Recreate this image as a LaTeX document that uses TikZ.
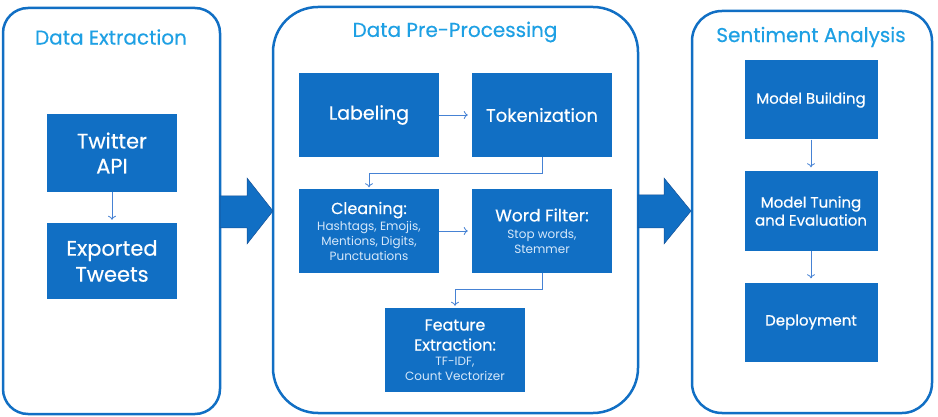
\documentclass[tikz,border=0pt]{standalone}
\usepackage{fontspec}
\setmainfont{Poppins}[FakeBold=0.4]
\newfontfamily\subfont{Poppins}
\usepackage{tikz}
\usepackage{xcolor}
\usetikzlibrary{arrows.meta}

\definecolor{boxblue}{RGB}{17,111,196}
\definecolor{titleblue}{RGB}{30,160,228}
\definecolor{linkblue}{RGB}{70,130,212}
\definecolor{edgeblue}{RGB}{20,80,150}
\definecolor{subwhite}{RGB}{214,232,250}

\newcommand{\fsz}[2]{\fontsize{#1}{#2}\selectfont}
\newcommand{\subline}{\subfont\fsz{12}{15}\color{subwhite}}

\begin{document}
\begin{tikzpicture}[x=1pt, y=-1pt,
  panel/.style={draw=boxblue, line width=2.5pt, fill=white},
  box/.style={fill=boxblue, text=white, align=center, inner sep=0pt},
  flow/.style={draw=linkblue, line width=0.8pt, ->, >={To[length=4pt,width=8pt,line width=0.8pt]}},
  title/.style={text=titleblue, font=\fsz{20}{24}}]
\useasboundingbox (0,0) rectangle (938,417);

% the three stages
\draw [panel, rounded corners=25] (3,8) rectangle (220,414);
\draw [panel, rounded corners=45] (273,7) rectangle (638,413);
\draw [panel, rounded corners=30] (692,11) rectangle (932,413);
\node [title] (t1) at (111,37) {Data Extraction};
\node [title] (t2) at (455,32) {Data Pre-Processing};
\node [title] (t3) at (811,37) {Sentiment Analysis};

% big arrows between stages
\draw [fill=boxblue, draw=edgeblue, line width=0.5pt] (220,196) -- (247,196) -- (247,178) -- (273,211)
  -- (247,244) -- (247,228) -- (220,228) -- cycle;
\draw [fill=boxblue, draw=edgeblue, line width=0.5pt] (638,195) -- (664,195) -- (664,178) -- (691,211)
  -- (664,244) -- (664,228) -- (638,228) -- cycle;

% data extraction
\node [box, minimum width=130, minimum height=78, font=\fsz{21}{25}] (twitter) at (112,153) {Twitter\\API};
\node [box, minimum width=130, minimum height=76, font=\fsz{21}{26}] (tweets) at (112,261) {Exported\\Tweets};
\draw [flow, shorten >=3pt] (twitter) -- (tweets);

% pre-processing
\node [box, minimum width=140, minimum height=84, font=\fsz{19}{22}] (label) at (369,115) {Labeling};
\node [box, minimum width=140, minimum height=84, font=\fsz{18}{22}] (token) at (542,115) {Tokenization};
\node [box, minimum width=140, minimum height=83, font=\fsz{16}{15}] (clean) at (369,231)
  {Cleaning:\\[1pt]\subline Hashtags, Emojis,\\\subline Mentions, Digits,\\\subline Punctuations};
\node [box, minimum width=140, minimum height=83, font=\fsz{17}{15}] (wordf) at (542,231)
  {Word Filter:\\[2pt]\subline Stop words,\\\subline Stemmer};
\node [box, minimum width=140, minimum height=84, font=\fsz{16}{15}] (feat) at (455,350)
  {Feature\\[5pt]Extraction:\\\subline TF-IDF,\\\subline Count Vectorizer};
\draw [flow, shorten >=4pt] (label) -- (token);
\draw [flow, shorten >=4pt] (clean) -- (wordf);
\draw [flow, shorten >=2pt] (token.south) -- ++(0,16) -| (clean.north);
\draw [flow, shorten >=2pt] (wordf.south) -- ++(0,17) -| (feat.north);

% sentiment analysis
\node [box, minimum width=133, minimum height=79, font=\fsz{15}{18}] (build) at (811,100) {Model Building};
\node [box, minimum width=133, minimum height=79, font=\fsz{15}{18}] (tune) at (811,211) {Model Tuning\\and Evaluation};
\node [box, minimum width=133, minimum height=79, font=\fsz{15}{18}] (deploy) at (811,322) {Deployment};
\draw [flow, shorten >=4pt] (build) -- (tune);
\draw [flow, shorten >=4pt] (tune) -- (deploy);
\end{tikzpicture}
\end{document}
